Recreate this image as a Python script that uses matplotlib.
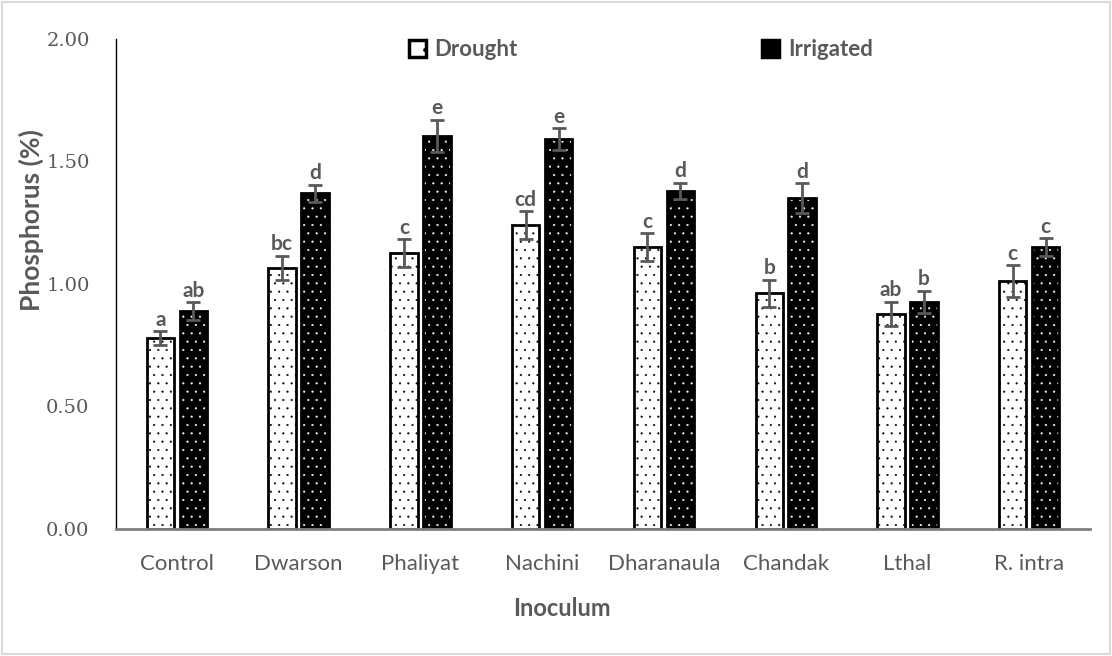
import numpy as np
import matplotlib.pyplot as plt
from matplotlib.patches import Rectangle, Patch

plt.rcParams['hatch.linewidth'] = 0.3

inoculum = ['Control', 'Dwarson', 'Phaliyat', 'Nachini', 'Dharanaula',
            'Chandak', 'Lthal', 'R. intra']
drought = [0.78, 1.065, 1.127, 1.241, 1.151, 0.963, 0.878, 1.012]
irrigated = [0.889, 1.371, 1.604, 1.59, 1.38, 1.351, 0.927, 1.151]
drought_err = [0.027, 0.05, 0.057, 0.057, 0.057, 0.055, 0.049, 0.065]
irrigated_err = [0.036, 0.035, 0.067, 0.045, 0.033, 0.06, 0.045, 0.035]
drought_letters = ['a', 'bc', 'c', 'cd', 'c', 'b', 'ab', 'c']
irrigated_letters = ['ab', 'd', 'e', 'e', 'd', 'd', 'b', 'c']

grey = '#595959'
x = np.arange(len(inoculum))
w = 0.225
gap = 0.045

fig = plt.figure(figsize=(11.12, 6.56), dpi=100)
fig.patches.append(Rectangle((0.002, 0.003), 0.996, 0.994, transform=fig.transFigure,
                             fill=False, edgecolor='#d9d9d9', linewidth=1.5))
ax = fig.add_axes([0.1043, 0.1936, 0.876, 0.747])

xd = x - w / 2 - gap / 2
xi = x + w / 2 + gap / 2

# drought: white bars with black dots
ax.bar(xd, drought, w, color='white', edgecolor='black', hatch='..', linewidth=0)
ax.bar(xd, drought, w, fill=False, edgecolor='black', linewidth=2)
# irrigated: black bars with white dots
ax.bar(xi, irrigated, w, color='black', edgecolor='white', hatch='..', linewidth=0)
ax.bar(xi, irrigated, w, fill=False, edgecolor='black', linewidth=2)

ax.errorbar(xd, drought, yerr=drought_err, fmt='none', ecolor=grey, elinewidth=2,
            capsize=5, capthick=2)
ax.errorbar(xi, irrigated, yerr=irrigated_err, fmt='none', ecolor=grey, elinewidth=2,
            capsize=5, capthick=2)

for xs, vals, errs, labs in [(xd, drought, drought_err, drought_letters),
                             (xi, irrigated, irrigated_err, irrigated_letters)]:
    for xx, v, e, lab in zip(xs, vals, errs, labs):
        ax.annotate(lab, (xx, v + e), xytext=(0, 1), textcoords='offset points',
                    ha='center', va='bottom', fontsize=15, fontweight='bold',
                    color=grey, family='Lato')

ax.set_xlim(-0.5, len(inoculum) - 0.5)
ax.set_ylim(0, 2.0)
ticks = [0, 0.5, 1.0, 1.5, 2.0]
ax.set_yticks(ticks)
ax.set_yticklabels(['%.2f' % t for t in ticks], family='DejaVu Serif',
                   fontsize=14, color=grey)
ax.set_xticks(x)
ax.set_xticklabels(inoculum, family='Lato', fontsize=16, color=grey)
ax.tick_params(axis='y', length=0, pad=19)
ax.tick_params(axis='x', length=0, pad=18)

ax.spines['top'].set_visible(False)
ax.spines['right'].set_visible(False)
ax.spines['left'].set_color('black')
ax.spines['left'].set_linewidth(1)
ax.spines['bottom'].set_color('#7f7f7f')
ax.spines['bottom'].set_linewidth(2)

ax.set_ylabel('Phosphorus (%)', fontsize=19, fontweight='bold', color=grey,
              family='Lato')
ax.set_xlabel('Inoculum', fontsize=17, fontweight='bold', color=grey,
              family='Lato')
ax.yaxis.set_label_coords(-0.074, 0.63)
ax.xaxis.set_label_coords(0.458, -0.139)

handles = [Patch(facecolor='white', edgecolor='black', hatch='.', linewidth=2.5),
           Patch(facecolor='black', edgecolor='black', linewidth=2.5)]
leg = ax.legend(handles, ['Drought', 'Irrigated'], ncol=2, frameon=False,
                loc='center', bbox_to_anchor=(0.539, 0.978), columnspacing=11,
                handlelength=0.75, handleheight=0.75, handletextpad=0.4,
                prop={'family': 'Lato', 'weight': 'bold', 'size': 16})
for t in leg.get_texts():
    t.set_color(grey)

fig.savefig('out.png', dpi=100)
